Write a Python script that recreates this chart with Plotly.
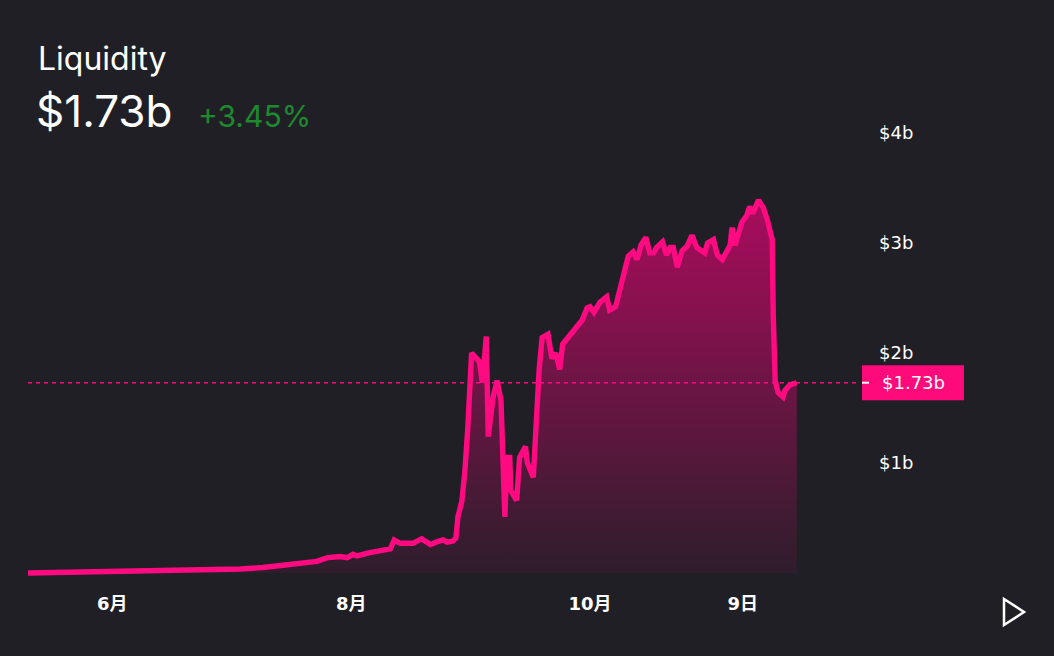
import plotly.graph_objects as go

# ---- data (liquidity in $ billions) ----
dates = [
    "2021-05-10 12:00", "2021-05-18 18:00", "2021-05-29 00:00", "2021-06-10 18:00", "2021-06-23 12:00",
    "2021-07-03 18:00", "2021-07-09 12:00", "2021-07-18 06:00", "2021-07-23 06:00", "2021-07-26 00:00",
    "2021-07-29 06:00", "2021-07-31 00:00", "2021-08-01 12:00", "2021-08-02 12:00", "2021-08-05 18:00",
    "2021-08-11 00:00", "2021-08-12 00:00", "2021-08-13 12:00", "2021-08-16 18:00", "2021-08-19 00:00",
    "2021-08-21 06:00", "2021-08-23 00:00", "2021-08-24 12:00", "2021-08-25 12:00", "2021-08-27 00:00",
    "2021-08-27 18:00", "2021-08-28 06:00", "2021-08-29 06:00", "2021-08-30 00:00", "2021-08-30 18:00",
    "2021-08-31 18:00", "2021-09-02 18:00", "2021-09-03 12:00", "2021-09-04 12:00", "2021-09-05 00:00",
    "2021-09-06 06:00", "2021-09-07 06:00", "2021-09-08 06:00", "2021-09-09 06:00", "2021-09-09 18:00",
    "2021-09-10 12:00", "2021-09-10 18:00", "2021-09-12 06:00", "2021-09-13 00:00", "2021-09-14 12:00",
    "2021-09-15 00:00", "2021-09-16 12:00", "2021-09-18 00:00", "2021-09-18 18:00", "2021-09-20 06:00",
    "2021-09-21 06:00", "2021-09-22 06:00", "2021-09-23 06:00", "2021-09-24 00:00", "2021-09-26 18:00",
    "2021-09-29 00:00", "2021-09-30 06:00", "2021-10-01 00:00", "2021-10-02 00:00", "2021-10-03 12:00",
    "2021-10-05 06:00", "2021-10-06 00:00", "2021-10-07 12:00", "2021-10-09 06:00", "2021-10-10 18:00",
    "2021-10-12 00:00", "2021-10-13 00:00", "2021-10-14 00:00", "2021-10-15 06:00", "2021-10-16 06:00",
    "2021-10-17 06:00", "2021-10-18 00:00", "2021-10-19 12:00", "2021-10-20 12:00", "2021-10-21 12:00",
    "2021-10-22 06:00", "2021-10-23 06:00", "2021-10-24 12:00", "2021-10-25 18:00", "2021-10-27 00:00",
    "2021-10-28 06:00", "2021-10-30 06:00", "2021-10-31 00:00", "2021-11-01 12:00", "2021-11-02 12:00",
    "2021-11-03 18:00", "2021-11-05 00:00", "2021-11-05 18:00", "2021-11-06 06:00", "2021-11-07 00:00",
    "2021-11-08 18:00", "2021-11-10 00:00", "2021-11-10 18:00", "2021-11-11 12:00", "2021-11-13 00:00",
    "2021-11-14 06:00", "2021-11-15 06:00", "2021-11-16 12:00", "2021-11-16 18:00", "2021-11-17 06:00",
    "2021-11-18 00:00", "2021-11-19 06:00", "2021-11-19 18:00", "2021-11-21 00:00", "2021-11-22 18:00",
]
liquidity = [
    0.0, 0.005, 0.01, 0.015, 0.022,
    0.036, 0.05, 0.08, 0.106, 0.14,
    0.15, 0.14, 0.17, 0.155, 0.185,
    0.22, 0.30, 0.27, 0.27, 0.31,
    0.26, 0.285, 0.30, 0.28, 0.29,
    0.32, 0.51, 0.65, 0.91, 1.30,
    2.0, 1.92, 1.73, 2.15, 1.24,
    1.6, 1.75, 1.57, 0.51, 1.05,
    1.05, 0.75, 0.66, 1.05, 1.15,
    1.0, 0.87, 1.85, 2.14, 2.17,
    1.95, 2.0, 1.85, 2.08, 2.21,
    2.3, 2.41, 2.42, 2.37, 2.46,
    2.51, 2.39, 2.42, 2.66, 2.88,
    2.92, 2.85, 2.98, 3.05, 2.91,
    2.91, 2.96, 3.01, 2.89, 2.96,
    2.96, 2.78, 2.93, 2.97, 3.07,
    2.96, 2.91, 3.0, 3.03, 2.89,
    2.85, 2.94, 2.98, 3.14, 2.98,
    3.19, 3.25, 3.33, 3.27, 3.39,
    3.32, 3.21, 3.03, 2.36, 1.75,
    1.64, 1.6, 1.66, 1.71, 1.73,
]

x_tick_vals = ["2021-06-01", "2021-08-01", "2021-10-01", "2021-11-09"]
x_tick_text = ["6月", "8月", "10月", "9日"]
y_tick_vals = [1, 2, 3, 4]
y_tick_text = ["$1b", "$2b", "$3b", "$4b"]

title_text = "Liquidity"
current_text = "$1.73b"
change_text = "+3.45%"
last_value = liquidity[-1]

# ---- style ----
BG = "#211f26"
PINK = "#ff0a80"
PLOT_W = 834
PLOT_H = 473

fig = go.Figure()
fig.add_trace(go.Scatter(
    x=dates, y=liquidity, mode="lines",
    line=dict(color=PINK, width=5.4),
    fill="tozeroy",
    fillgradient=dict(
        type="vertical", start=0, stop=3.4,
        colorscale=[[0, "rgba(255,0,127,0.06)"], [1, "rgba(255,0,127,0.62)"]],
    ),
    hoverinfo="skip",
))

shapes = [
    # dashed current-value line
    dict(type="line", xref="paper", yref="y", x0=0, x1=(857 - 28) / PLOT_W,
         y0=last_value, y1=last_value, line=dict(color=PINK, width=1.5, dash="4px,4px"), layer="above"),
    # value box
    dict(type="rect", xref="paper", yref="y", x0=1.0, x1=1.0 + 102 / PLOT_W,
         ysizemode="pixel", yanchor=last_value, y0=-17.5, y1=17.5,
         fillcolor="#ff0a7a", line=dict(width=0), layer="above"),
    # white tick inside the box
    dict(type="line", xref="paper", yref="y", x0=1.0, x1=1.0 + 7 / PLOT_W,
         y0=last_value, y1=last_value, line=dict(color="white", width=2), layer="above"),
    # play icon
    dict(type="path", xref="paper", yref="paper",
         path="M {a},{b} L {a},{c} L {d},{e} Z".format(
             a=(1004 - 28) / PLOT_W, b=(584 - 599) / PLOT_H, c=(584 - 625) / PLOT_H,
             d=(1024 - 28) / PLOT_W, e=(584 - 612) / PLOT_H),
         line=dict(color="white", width=2.5), fillcolor="rgba(0,0,0,0)", layer="above"),
]

annotations = [
    dict(text=title_text, xref="paper", yref="paper", x=(36 - 28) / PLOT_W, y=1 + (111 - 58) / PLOT_H,
         xanchor="left", yanchor="middle", showarrow=False,
         font=dict(family="Inter", size=32, color="white")),
    dict(text=current_text, xref="paper", yref="paper", x=(34 - 28) / PLOT_W, y=1 + (111 - 111) / PLOT_H,
         xanchor="left", yanchor="middle", showarrow=False,
         font=dict(family="Inter", size=44, color="white")),
    dict(text=change_text, xref="paper", yref="paper", x=(196 - 28) / PLOT_W, y=1 + (111 - 116) / PLOT_H,
         xanchor="left", yanchor="middle", showarrow=False,
         font=dict(family="Inter", size=30, color="#1c8a2e")),
    dict(text=current_text, xref="paper", yref="y", x=1.0 + 51 / PLOT_W, y=last_value,
         xanchor="center", yanchor="middle", showarrow=False,
         font=dict(family="DejaVu Sans", size=18, color="white")),
]

fig.update_layout(
    width=1054, height=656,
    margin=dict(l=28, r=1054 - 28 - PLOT_W, t=111, b=656 - 111 - PLOT_H),
    paper_bgcolor=BG, plot_bgcolor=BG,
    showlegend=False,
    shapes=shapes,
    annotations=annotations,
    xaxis=dict(
        type="date", range=["2021-05-10 12:00", "2021-12-09 10:00"],
        tickmode="array", tickvals=x_tick_vals, ticktext=x_tick_text,
        showgrid=False, zeroline=False, showline=False, ticks="",
        tickfont=dict(family="DejaVu Sans, Noto Sans CJK SC", size=18, color="white", weight="bold"),
        ticklabelstandoff=7, fixedrange=True,
    ),
    yaxis=dict(
        range=[-0.1, 4.2], side="right",
        tickmode="array", tickvals=y_tick_vals, ticktext=y_tick_text,
        showgrid=False, zeroline=False, showline=False, ticks="",
        tickfont=dict(family="DejaVu Sans", size=18, color="white"),
        ticklabelstandoff=16, fixedrange=True,
    ),
)

fig.write_html(
    "out.html",
    config={"displayModeBar": False},
    post_script="document.body.style.margin='0';document.body.style.background='%s';" % BG,
)
